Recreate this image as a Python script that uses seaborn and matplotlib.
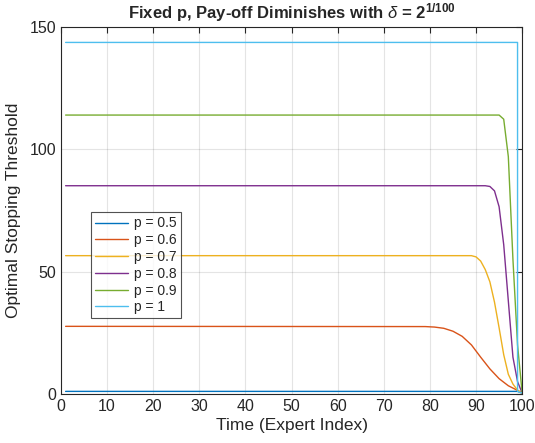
import numpy as np
import pandas as pd
import matplotlib
matplotlib.use("Agg")
import matplotlib.pyplot as plt
import seaborn as sns

# values, knots per series (time, threshold)
t_05 = [1, 99, 100]
v_05 = [1.0, 1.0, 0.3]

t_06 = [1, 79, 81, 83, 85, 87, 89, 91, 93, 95, 97, 99, 100]
v_06 = [27.6, 27.5, 27.3, 26.8, 25.6, 23.5, 20.0, 15.0, 10.2, 6.2, 3.3, 1.4, 0.3]

t_07 = [1, 89, 90, 91, 92, 93, 94, 95, 96, 97, 98, 99, 100]
v_07 = [56.5, 56.5, 56.0, 54.3, 50.8, 45.8, 37.5, 27.0, 16.0, 8.0, 4.0, 1.5, 0.3]

t_08 = [1, 92, 93, 94, 95, 96, 97, 98, 99, 100]
v_08 = [85.1, 85.1, 84.8, 83.0, 76.5, 61.0, 38.0, 15.0, 5.0, 0.3]

t_09 = [1, 95, 96, 97, 98, 99, 100]
v_09 = [114.0, 114.0, 112.3, 97.0, 55.0, 20.0, 0.3]

t_10 = [1, 99, 99, 100]
v_10 = [143.7, 143.7, 1.0, 0.3]

labels = ["p = 0.5", "p = 0.6", "p = 0.7", "p = 0.8", "p = 0.9", "p = 1"]
series = [(t_05, v_05), (t_06, v_06), (t_07, v_07),
          (t_08, v_08), (t_09, v_09), (t_10, v_10)]

# matlab default line colours
colors = ["#0072BD", "#D95319", "#EDB120", "#7E2F8E", "#77AC30", "#4DBEEE"]

rows = []
for lab, (ts, vs) in zip(labels, series):
    for t, v in zip(ts, vs):
        rows.append({"time": t, "threshold": v, "p": lab})
df = pd.DataFrame(rows)

sns.set_style("white")
plt.rcParams["font.family"] = ["Liberation Sans", "DejaVu Sans"]
plt.rcParams["mathtext.fontset"] = "custom"
plt.rcParams["mathtext.rm"] = "Liberation Sans:bold"
plt.rcParams["mathtext.it"] = "Liberation Sans:italic"
plt.rcParams["mathtext.bf"] = "Liberation Sans:bold"

fig = plt.figure(figsize=(5.35, 4.43), dpi=100)
ax = fig.add_axes([0.114, 0.111, 0.862, 0.828])

sns.lineplot(data=df, x="time", y="threshold", hue="p", palette=colors,
             estimator=None, sort=False, units="p", linewidth=1.0, ax=ax,
             legend=True)

ax.set_xlim(0, 100)
ax.set_ylim(0, 150)
ax.set_xticks(range(0, 101, 10))
ax.set_yticks([0, 50, 100, 150])
ax.grid(True, color="#262626", alpha=0.12, linewidth=0.8)
for s in ax.spines.values():
    s.set_color("#262626")
    s.set_linewidth(0.8)
ax.tick_params(direction="in", top=True, right=True, length=4, width=0.8,
               color="#262626", labelsize=11.5, labelcolor="#262626")

ax.set_xlabel("Time (Expert Index)", fontsize=12.5, color="#262626", labelpad=3)
ax.set_ylabel("Optimal Stopping Threshold", fontsize=12.5, color="#262626",
              labelpad=6)
ax.set_title(r"Fixed p, Pay-off Diminishes with $\delta$ = $\mathbf{2^{1/100}}$",
             fontsize=12, fontweight="bold", pad=6)

leg = ax.legend(loc="upper left", bbox_to_anchor=(0.065, 0.495), fontsize=10,
                frameon=True, fancybox=False, edgecolor="#262626",
                handlelength=2.4, borderpad=0.3, labelspacing=0.2,
                handletextpad=0.4, borderaxespad=0)
leg.get_frame().set_linewidth(0.8)

fig.savefig("out.png", dpi=100)
